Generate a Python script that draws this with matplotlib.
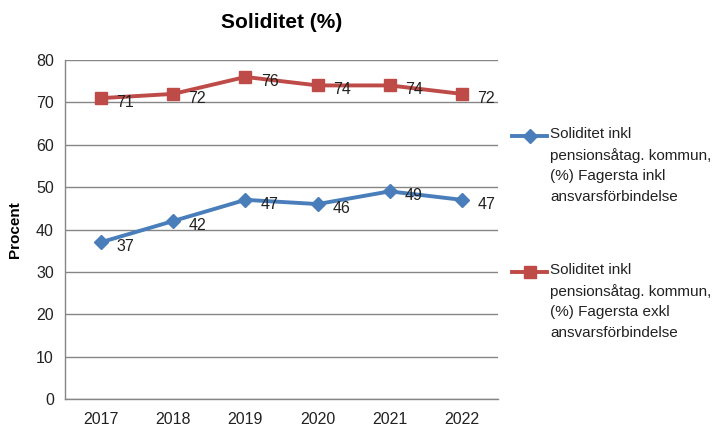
import matplotlib
matplotlib.use("Agg")
import matplotlib.pyplot as plt
from matplotlib.lines import Line2D

years = ["2017", "2018", "2019", "2020", "2021", "2022"]
inkl = [37, 42, 47, 46, 49, 47]
exkl = [71, 72, 76, 74, 74, 72]
label_inkl = "Soliditet inkl\npensionsåtag. kommun,\n(%) Fagersta inkl\nansvarsförbindelse"
label_exkl = "Soliditet inkl\npensionsåtag. kommun,\n(%) Fagersta exkl\nansvarsförbindelse"
title = "Soliditet (%)"
ylabel = "Procent"

BLUE = "#4A7EBB"
RED = "#BE4B48"
GRID = "#868686"
FONT = "Liberation Sans"
plt.rcParams["font.family"] = [FONT, "DejaVu Sans"]

W, H = 719, 428
fig = plt.figure(figsize=(W / 100, H / 100), dpi=100)
ax = fig.add_axes([65 / W, 1 - 399 / H, (498 - 65) / W, (399 - 60) / H])

x = list(range(len(years)))
ax.plot(x, inkl, color=BLUE, lw=2.8, marker="D", ms=7, mec=BLUE, mfc=BLUE, zorder=3)
ax.plot(x, exkl, color=RED, lw=2.8, marker="s", ms=9, mec=RED, mfc=RED, zorder=3)
for xi, v in zip(x, inkl):
    ax.annotate(str(v), (xi, v), xytext=(11, -3), textcoords="offset points",
                ha="left", va="center", fontsize=11.5, color="#222222", zorder=4)
for xi, v in zip(x, exkl):
    ax.annotate(str(v), (xi, v), xytext=(11, -3), textcoords="offset points",
                ha="left", va="center", fontsize=11.5, color="#222222", zorder=4)

ax.set_xlim(-0.5, len(years) - 0.5)
ax.set_ylim(0, 80)
ax.set_yticks(range(0, 81, 10))
ax.set_xticks(x)
ax.set_xticklabels(years)
ax.tick_params(axis="both", length=0, labelsize=11.5, colors="#222222")
ax.tick_params(axis="x", pad=9)
ax.tick_params(axis="y", pad=8)
ax.yaxis.grid(True, color=GRID, lw=1)
ax.set_axisbelow(True)
for s in ["top", "right"]:
    ax.spines[s].set_visible(False)
for s in ["left", "bottom"]:
    ax.spines[s].set_color(GRID)
    ax.spines[s].set_linewidth(1)

ax.set_ylabel(ylabel, fontsize=11, fontweight="bold", labelpad=10)
fig.text(282 / W, 1 - 22 / H, title, ha="center", va="center", fontsize=15, fontweight="bold")

# legend
def legend_entry(y_px, color, marker, ms, text):
    yf = 1 - y_px / H
    fig.add_artist(Line2D([512 / W, 547 / W], [yf, yf], transform=fig.transFigure,
                          color=color, lw=2.8))
    fig.add_artist(Line2D([530 / W], [yf], transform=fig.transFigure,
                          color=color, marker=marker, ms=ms, mec=color, mfc=color, lw=0))
    fig.text(550 / W, 1 - (y_px - 9) / H, text, ha="left", va="top", fontsize=11,
             linespacing=1.58, color="#222222")

legend_entry(136, BLUE, "D", 7, label_inkl)
legend_entry(272, RED, "s", 9, label_exkl)

fig.savefig("out.png", dpi=100)
